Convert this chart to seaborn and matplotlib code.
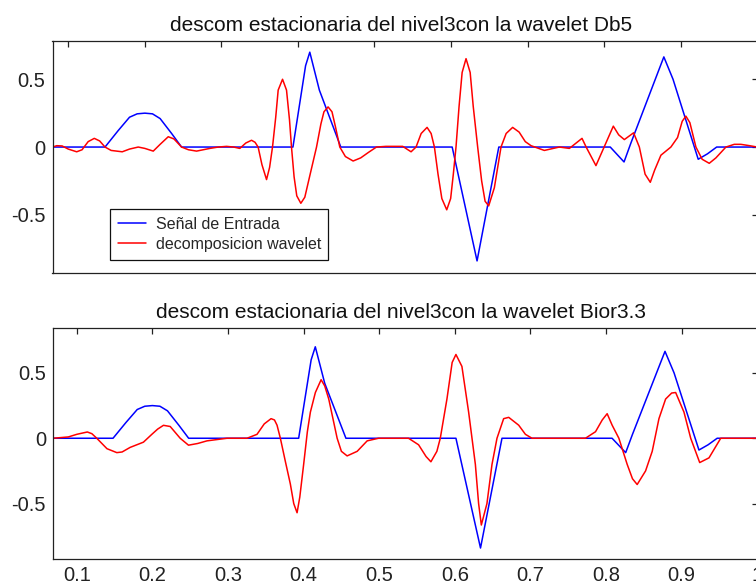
import matplotlib
matplotlib.use("Agg")
import matplotlib.pyplot as plt
import seaborn as sns
import pandas as pd

# ---- data ----
x_in = [0.0686, 0.148, 0.165, 0.18, 0.19, 0.20, 0.21, 0.22, 0.235, 0.248,
        0.3935, 0.41, 0.4155, 0.428, 0.456, 0.6015, 0.634, 0.6624,
        0.808, 0.826, 0.835, 0.878, 0.89, 0.9229, 0.935, 0.947, 1.0]
y_in = [0, 0, 0.12, 0.22, 0.245, 0.25, 0.245, 0.21, 0.1, 0,
        0, 0.6, 0.70, 0.42, 0, 0, -0.84, 0,
        0, -0.11, 0.03, 0.665, 0.5, -0.09, -0.05, 0, 0]

x_db5 = [0.0794, 0.085, 0.092, 0.1, 0.111, 0.118, 0.126, 0.134, 0.141, 0.148,
         0.156, 0.1705, 0.18, 0.1914, 0.2, 0.211, 0.22, 0.2306, 0.238, 0.248,
         0.257, 0.2676, 0.285, 0.296, 0.3068, 0.316, 0.3241, 0.332, 0.3394, 0.344,
         0.348, 0.353, 0.359, 0.363, 0.3668, 0.371, 0.3742, 0.3799, 0.3851, 0.389,
         0.3916, 0.395, 0.3985, 0.4038, 0.409, 0.416, 0.4243, 0.43, 0.434, 0.4394,
         0.4445, 0.449, 0.4547, 0.462, 0.4721, 0.482, 0.492, 0.5026, 0.515, 0.5369,
         0.5478, 0.5543, 0.561, 0.5687, 0.574, 0.5783, 0.583, 0.588, 0.5944, 0.5995,
         0.603, 0.6065, 0.6105, 0.6145, 0.6196, 0.625, 0.629, 0.6348, 0.64, 0.6445,
         0.6492, 0.6566, 0.6653, 0.672, 0.6805, 0.689, 0.697, 0.7045, 0.7219, 0.7415,
         0.7546, 0.7711, 0.7765, 0.7893, 0.800, 0.812, 0.819, 0.8264, 0.8385, 0.846,
         0.8535, 0.8603, 0.866, 0.8742, 0.8872, 0.8959, 0.902, 0.9068, 0.912, 0.9199,
         0.928, 0.9373, 0.946, 0.9591, 0.97, 0.9786, 0.99, 1.0]
y_db5 = [0, 0.01, 0.008, -0.015, -0.035, -0.02, 0.04, 0.064, 0.045, 0,
         -0.025, -0.035, -0.015, 0, -0.01, -0.03, 0.02, 0.076, 0.06, 0,
         -0.02, -0.03, -0.01, 0.0, 0.005, 0.0, -0.01, 0.03, 0.05, 0.035,
         0, -0.13, -0.24, -0.15, 0, 0.22, 0.42, 0.5, 0.42, 0.2,
         0, -0.22, -0.36, -0.415, -0.37, -0.2, 0, 0.17, 0.26, 0.296,
         0.26, 0.15, 0, -0.07, -0.103, -0.08, -0.04, 0, 0.005, 0.005,
         -0.035, 0, 0.1, 0.145, 0.1, 0, -0.2, -0.38, -0.463, -0.38,
         -0.2, 0, 0.3, 0.55, 0.652, 0.55, 0.3, 0, -0.25, -0.4,
         -0.434, -0.3, 0, 0.1, 0.145, 0.11, 0.04, 0.01, -0.025, 0,
         -0.01, 0.064, 0.0, -0.137, 0.0, 0.154, 0.09, 0.055, 0.105, 0.0,
         -0.2, -0.26, -0.17, -0.06, 0, 0.07, 0.19, 0.228, 0.18, 0,
         -0.09, -0.12, -0.08, 0, 0.02, 0.02, 0.01, 0]

x_bior = [0.0686, 0.0889, 0.1, 0.114, 0.12, 0.1265, 0.14, 0.153, 0.16, 0.1706,
          0.1882, 0.1993, 0.207, 0.2147, 0.2236, 0.2368, 0.2478, 0.26, 0.2722, 0.2987,
          0.3252, 0.3384, 0.348, 0.357, 0.3615, 0.3649, 0.3693, 0.376, 0.3825, 0.387,
          0.3914, 0.395, 0.4001, 0.405, 0.409, 0.4156, 0.4232, 0.428, 0.4333, 0.4444,
          0.45, 0.4576, 0.4709, 0.4841, 0.4991, 0.5388, 0.5521, 0.562, 0.5684, 0.5763,
          0.5808, 0.5896, 0.5965, 0.6015, 0.6094, 0.6183, 0.6272, 0.6315, 0.6351, 0.6425,
          0.6492, 0.6558, 0.6646, 0.6713, 0.6845, 0.6934, 0.7021, 0.7728, 0.7861, 0.795,
          0.8015, 0.8081, 0.817, 0.828, 0.835, 0.8412, 0.8523, 0.8611, 0.87, 0.8788,
          0.8868, 0.8921, 0.9031, 0.912, 0.9239, 0.9362, 0.9517, 1.0]
y_bior = [0, 0.01, 0.03, 0.048, 0.035, 0, -0.08, -0.11, -0.105, -0.07,
          -0.03, 0.03, 0.07, 0.099, 0.09, 0, -0.053, -0.04, -0.02, 0,
          0, 0.03, 0.11, 0.15, 0.14, 0.1, 0, -0.18, -0.35, -0.5,
          -0.57, -0.45, -0.2, 0.05, 0.2, 0.35, 0.448, 0.4, 0.3, 0,
          -0.1, -0.135, -0.1, -0.02, 0, 0, -0.05, -0.14, -0.18, -0.1,
          0, 0.3, 0.58, 0.641, 0.55, 0.2, -0.2, -0.5, -0.664, -0.5,
          -0.2, 0, 0.15, 0.16, 0.1, 0.03, 0, 0, 0.05, 0.14,
          0.188, 0.1, 0, -0.2, -0.31, -0.354, -0.25, -0.1, 0.15, 0.3,
          0.346, 0.35, 0.2, 0, -0.186, -0.15, 0, 0]

titles = ["descom estacionaria del nivel3con la wavelet Db5",
          "descom estacionaria del nivel3con la wavelet Bior3.3"]
legend_labels = ["Señal de Entrada", "decomposicion wavelet"]
x_ticks = [0.1, 0.2, 0.3, 0.4, 0.5, 0.6, 0.7, 0.8, 0.9, 1.0]
x_ticklabels = ["0.1", "0.2", "0.3", "0.4", "0.5", "0.6", "0.7", "0.8", "0.9", "1"]
y_ticks = [-0.5, 0, 0.5]
y_ticklabels = ["-0.5", "0", "0.5"]

# ---- style ----
sns.set_theme(style="white")
plt.rcParams["font.family"] = ["Liberation Sans", "DejaVu Sans"]

W, H = 756, 587
fig = plt.figure(figsize=(W / 100, H / 100), dpi=100)
fig.patch.set_facecolor("white")


def rect(l, r, t, b):
    return [l / W, 1 - b / H, (r - l) / W, (b - t) / H]


ax1 = fig.add_axes(rect(52.5, 758, 40.5, 272.7))
ax2 = fig.add_axes(rect(53, 758, 327.7, 559))

BLUE = "#0000ff"
RED = "#ff0000"

df_in = pd.DataFrame({"x": x_in, "y": y_in})
df_db5 = pd.DataFrame({"x": x_db5, "y": y_db5})
df_bior = pd.DataFrame({"x": x_bior, "y": y_bior})

sns.lineplot(data=df_in, x="x", y="y", ax=ax1, color=BLUE, lw=1.1,
             sort=False, estimator=None, label=legend_labels[0])
sns.lineplot(data=df_db5, x="x", y="y", ax=ax1, color=RED, lw=1.1,
             sort=False, estimator=None, label=legend_labels[1])
sns.lineplot(data=df_in, x="x", y="y", ax=ax2, color=BLUE, lw=1.1,
             sort=False, estimator=None, legend=False)
sns.lineplot(data=df_bior, x="x", y="y", ax=ax2, color=RED, lw=1.1,
             sort=False, estimator=None, legend=False)

ax1.set_xlim(0.0794, 1.001)
ax1.set_ylim(-0.927, 0.786)
ax2.set_xlim(0.0686, 1.001)
ax2.set_ylim(-0.924, 0.846)

for ax, title in zip((ax1, ax2), titles):
    ax.set_xticks(x_ticks)
    ax.set_yticks(y_ticks)
    ax.set_yticklabels(y_ticklabels)
    ax.set_xlabel("")
    ax.set_ylabel("")
    ax.tick_params(direction="in", length=4, width=0.9, top=True, right=True,
                   labelsize=14.5, colors="#222222", pad=5)
    for s in ax.spines.values():
        s.set_color("#222222")
        s.set_linewidth(0.9)
    ax.set_title(title, fontsize=15, color="#111111", x=0.494, pad=7)
    ax.set_facecolor("white")

ax1.set_xticklabels([])
ax2.set_xticklabels(x_ticklabels)
ax2.tick_params(axis="x", pad=5)

leg = ax1.legend(loc="upper left", bbox_to_anchor=(0.0815, 0.074, 0.309, 0.2),
                 mode="expand", borderaxespad=0,
                 fontsize=11.5, frameon=True, fancybox=False, framealpha=1,
                 edgecolor="#111111", handlelength=1.75, handletextpad=0.6,
                 borderpad=0.5, labelspacing=0.3)
leg.get_frame().set_linewidth(0.9)

fig.savefig("out.png", dpi=100, facecolor="white")
